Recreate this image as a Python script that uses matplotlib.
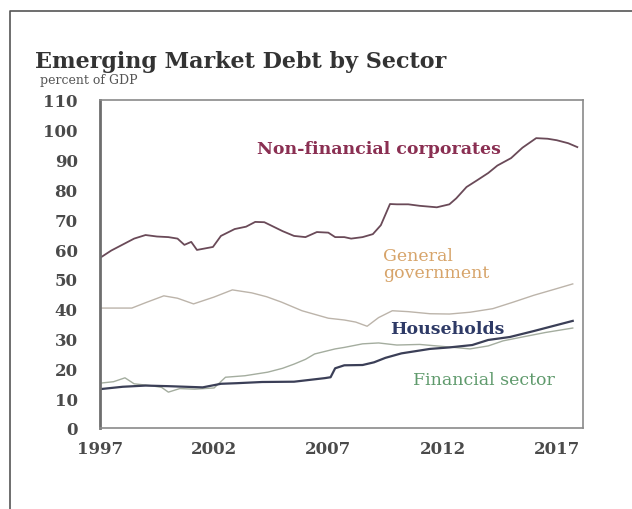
import matplotlib.pyplot as plt
from matplotlib.lines import Line2D

# data (percent of GDP)
nfc_years = [1997.0, 1997.5, 1998.0, 1998.5, 1999.0, 1999.5, 2000.0, 2000.4, 2000.7, 2001.0,
             2001.25, 2001.6, 2001.95, 2002.3, 2002.9, 2003.4, 2003.8, 2004.2, 2004.6, 2005.0,
             2005.5, 2006.0, 2006.5, 2007.0, 2007.3, 2007.7, 2008.0, 2008.5, 2008.95, 2009.3,
             2009.7, 2010.0, 2010.5, 2011.0, 2011.75, 2012.3, 2012.6, 2013.05, 2013.5, 2014.0,
             2014.4, 2015.0, 2015.5, 2016.1, 2016.6, 2017.0, 2017.5, 2017.9]
nfc_vals = [57.0, 59.5, 61.5, 63.5, 64.7, 64.2, 64.0, 63.5, 61.4, 62.4,
            59.7, 60.2, 60.7, 64.4, 66.7, 67.5, 69.1, 69.0, 67.5, 66.0,
            64.4, 64.0, 65.7, 65.5, 64.0, 64.0, 63.5, 64.0, 65.0, 68.0,
            75.1, 75.0, 75.0, 74.5, 74.0, 75.0, 77.0, 80.8, 83.0, 85.5,
            88.0, 90.5, 94.0, 97.2, 97.0, 96.5, 95.5, 94.2]

gov_years = [1997.0, 1998.4, 1999.0, 1999.8, 2000.4, 2001.1, 2002.0, 2002.8, 2003.65, 2004.3,
             2004.95, 2005.85, 2007.0, 2007.7, 2008.2, 2008.7, 2009.2, 2009.8, 2010.5, 2011.45,
             2012.3, 2013.2, 2014.2, 2015.1, 2016.0, 2016.9, 2017.7]
gov_vals = [40.2, 40.2, 42.0, 44.3, 43.5, 41.6, 43.9, 46.3, 45.3, 44.0,
            42.2, 39.3, 36.8, 36.2, 35.5, 34.1, 37.0, 39.3, 39.0, 38.3,
            38.2, 38.8, 40.0, 42.2, 44.5, 46.5, 48.3]

hh_years = [1997.0, 1998.0, 1999.0, 2000.0, 2001.5, 2002.3, 2003.0, 2004.1, 2005.5, 2006.85,
            2007.1, 2007.3, 2007.7, 2008.5, 2009.0, 2009.5, 2010.2, 2011.45, 2012.3, 2013.3,
            2014.0, 2014.95, 2016.0, 2017.0, 2017.7]
hh_vals = [13.0, 13.8, 14.2, 14.0, 13.6, 14.8, 15.0, 15.4, 15.5, 16.7,
           17.0, 20.0, 21.0, 21.1, 22.0, 23.5, 25.0, 26.5, 27.0, 27.8,
           29.5, 30.5, 32.5, 34.5, 35.9]

fin_years = [1997.0, 1997.6, 1998.1, 1998.5, 1999.2, 1999.7, 2000.0, 2000.5, 2001.15, 2002.0,
             2002.5, 2003.35, 2004.35, 2005.0, 2005.5, 2006.0, 2006.4, 2007.3, 2007.7, 2008.5,
             2009.2, 2010.0, 2011.0, 2011.75, 2012.5, 2013.2, 2014.0, 2014.65, 2015.5, 2016.5,
             2017.7]
fin_vals = [15.0, 15.5, 16.8, 14.8, 14.2, 13.6, 12.0, 13.2, 13.0, 13.4,
            17.0, 17.5, 18.7, 20.0, 21.4, 23.0, 24.8, 26.5, 27.0, 28.2,
            28.5, 27.8, 28.0, 27.5, 27.0, 26.5, 27.5, 29.2, 30.5, 32.0,
            33.5]

x_ticks = [1997, 2002, 2007, 2012, 2017]
y_ticks = list(range(0, 111, 10))

font = 'DejaVu Serif'
fig = plt.figure(figsize=(6.32, 5.10), dpi=100)
ax = fig.add_axes([0.158, 0.159, 0.7645, 0.643])

ax.plot(gov_years, gov_vals, color='#bcb4aa', lw=1.0)
ax.plot(fin_years, fin_vals, color='#a4ad9f', lw=1.0)
ax.plot(hh_years, hh_vals, color='#3b3f57', lw=1.6)
ax.plot(nfc_years, nfc_vals, color='#6a4a58', lw=1.3)

ax.set_xlim(1997, 2018.15)
ax.set_ylim(0, 110)
ax.set_xticks(x_ticks)
ax.set_yticks(y_ticks)
ax.tick_params(length=0, labelsize=12, colors='#4a4a4a')
ax.tick_params(axis='y', pad=16)
ax.tick_params(axis='x', pad=9)
for lab in ax.get_xticklabels() + ax.get_yticklabels():
    lab.set_family(font)
    lab.set_fontweight('bold')
for side in ['top', 'right', 'bottom']:
    ax.spines[side].set_color('#8a8a8a')
    ax.spines[side].set_linewidth(1.2)
ax.spines['left'].set_color('#6e6e6e')
ax.spines['left'].set_linewidth(2)

# series labels
ax.text(2009.2, 93.6, 'Non-financial corporates', color='#8a2f52', fontsize=12.5,
        fontweight='bold', family=font, ha='center', va='center')
ax.text(2009.4, 55.0, 'General\ngovernment', color='#d7a46a', fontsize=12.5,
        family=font, ha='left', va='center', linespacing=1.0)
ax.text(2012.2, 33.2, 'Households', color='#2e3a66', fontsize=12.5, fontweight='bold',
        family=font, ha='center', va='center')
ax.text(2013.8, 16.4, 'Financial sector', color='#5f9a6c', fontsize=12.5,
        family=font, ha='center', va='center')

# title block
fig.text(0.055, 0.866, 'Emerging Market Debt by Sector', fontsize=16, fontweight='bold',
         family=font, color='#333333', va='baseline')
fig.text(0.063, 0.836, 'percent of GDP', fontsize=9, family=font, color='#555555',
         va='baseline')

# outer frame (top and left edges)
fig.add_artist(Line2D([0.0158, 0.0158, 1.0], [0.0, 0.9765, 0.9765],
                      transform=fig.transFigure, color='#555555', lw=1.2))

fig.savefig('out.png', dpi=100)
